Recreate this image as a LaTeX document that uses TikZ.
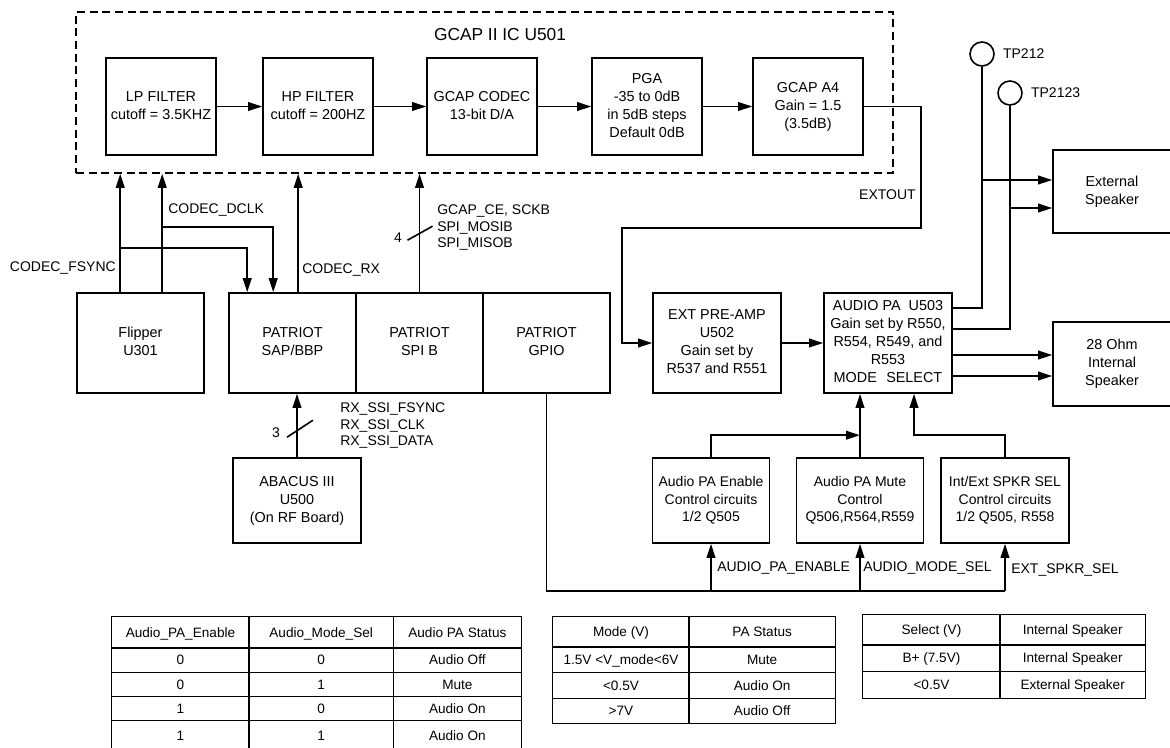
\documentclass[tikz,border=0pt]{standalone}
\usepackage{fontspec}
\setmainfont{Liberation Sans}
\usepackage{array}
\usetikzlibrary{arrows.meta,positioning,calc}
% strut for a table row of #1 px
\newcommand{\rowht}[1]{\rule[\dimexpr3.6pt-0.375pt*#1\relax]{0pt}{\dimexpr0.75pt*#1\relax}}
\tikzset{
 wire/.style={line width=1.2pt},
 blk/.style={draw, line width=1.2pt, inner sep=1pt, font=\fontsize{10.8}{13.5}\selectfont},
 ctl/.style={blk, minimum height=63.75pt, font=\fontsize{10.5}{13.1}\selectfont},
 sig/.style={inner sep=0pt, font=\fontsize{10.5}{12.4}\selectfont},
 tp/.style={draw, circle, line width=1.2pt, minimum size=18pt, inner sep=0pt},
 tbl/.style={inner sep=0pt, anchor=north west, font=\fontsize{10.2}{12}\selectfont},
}

\begin{document}
\begin{tikzpicture}[x=0.75pt, y=-0.75pt, >={Triangle[length=10.5pt,width=6.5pt]}]
\useasboundingbox (0,0) rectangle (1170,747);
% GCAP II
\node[draw, line width=1.2pt, dash pattern=on 6pt off 3.5pt, minimum width=612.75pt, minimum height=120.75pt] (gcap) at (484.5,92.5) {};
\node[font=\fontsize{13}{15}\selectfont] (gcaplbl) at (500,35) {GCAP II IC U501};
\node[blk, minimum width=82.5pt, minimum height=72.75pt] (lpf) at (161,106.5) {\begin{tabular}{@{}c@{}}LP FILTER\\ cutoff = 3.5KHZ\end{tabular}};
\node[blk, minimum width=82.5pt, minimum height=72.75pt] (hpf) at (318,106.5) {\begin{tabular}{@{}c@{}}HP FILTER\\ cutoff = 200HZ\end{tabular}};
\node[blk, minimum width=82.5pt, minimum height=72.75pt] (codec) at (482,106.5) {\begin{tabular}{@{}c@{}}GCAP CODEC\\ 13-bit D/A\\ \end{tabular}};
\node[blk, minimum width=82.5pt, minimum height=72.75pt] (pga) at (647,106.5) {\begin{tabular}{@{}c@{}}PGA\\ -35 to 0dB\\ in 5dB steps\\ Default 0dB\end{tabular}};
\node[blk, minimum width=82.5pt, minimum height=72.75pt] (a4) at (808,106.5) {\begin{tabular}{@{}c@{}}GCAP A4\\ Gain = 1.5\\ (3.5dB)\end{tabular}};
\path[->, wire] (lpf) edge (hpf) (hpf) edge (codec) (codec) edge (pga) (pga) edge (a4);

% baseband side
\node[blk, minimum width=95.25pt, minimum height=75pt] (flipper) at (140.5,343) {\begin{tabular}{@{}c@{}}Flipper\\ U301\end{tabular}};
\node[blk, minimum width=95.25pt, minimum height=75pt] (sap) at (292.5,343) {\begin{tabular}{@{}c@{}}PATRIOT\\ SAP/BBP\end{tabular}};
\node[blk, minimum width=95.25pt, minimum height=75pt] (spi) at (419.5,343) {\begin{tabular}{@{}c@{}}PATRIOT\\ SPI B\end{tabular}};
\node[blk, minimum width=95.25pt, minimum height=75pt] (gpio) at (546.5,343) {\begin{tabular}{@{}c@{}}PATRIOT\\ GPIO\end{tabular}};
\node[blk, minimum width=96pt, minimum height=63.75pt] (abacus) at (297,500.5) {\begin{tabular}{@{}c@{}}ABACUS III\\ U500\\ (On RF Board)\end{tabular}};

\coordinate (fs) at ($(flipper.north west)+(44,0)$);
\coordinate (dclk) at ($(flipper.north west)+(86,0)$);
\coordinate (sapfs) at ($(sap.north west)+(19,0)$);
\coordinate (sapdclk) at ($(sap.north west)+(45,0)$);
\coordinate (saprx) at ($(sap.north west)+(70,0)$);
\draw[->, wire] (fs) -- (fs |- gcap.south);
\draw[->, wire] (dclk) -- (dclk |- gcap.south);
\draw[->, wire] ($(fs)+(0,-44)$) -| (sapfs);
\draw[->, wire] ($(dclk)+(0,-65)$) -| (sapdclk);
\draw[->, wire] (saprx) -- (saprx |- gcap.south);
\draw[->, wire] (spi.north) -- (spi.north |- gcap.south);
\draw[wire] ($(spi.north)+(-12,-52)$) -- ++(25,-14);
\draw[->, wire] (abacus.north) -- (abacus.north |- sap.south);
\draw[wire] ($(abacus.north)+(-10,-20)$) -- ++(26,-17);

\node[sig, anchor=west] (dclklbl) at (168,210) {CODEC\_DCLK};
\node[sig, anchor=east] (fsynclbl) at (116,268) {CODEC\_FSYNC};
\node[sig, anchor=west] (rxlbl) at (302,270) {CODEC\_RX};
\node[sig] (spinum) at (398,238) {4};
\node[sig, anchor=west] (spilbl) at (437,228) {\begin{tabular}{@{}l@{}}GCAP\_CE, SCKB\\ SPI\_MOSIB\\ SPI\_MISOB\end{tabular}};
\node[sig] (rxnum) at (276,433) {3};
\node[sig, anchor=west] (rxssilbl) at (340,426) {\begin{tabular}{@{}l@{}}RX\_SSI\_FSYNC\\ RX\_SSI\_CLK\\ RX\_SSI\_DATA\end{tabular}};

% audio path
\node[blk, minimum width=96pt, minimum height=75pt] (preamp) at (717,343) {\begin{tabular}{@{}c@{}}EXT PRE-AMP\\ U502\\ Gain set by\\ R537 and R551\end{tabular}};
\node[blk, minimum width=96pt, minimum height=75pt] (pa) at (888,343) {\begin{tabular}{@{}c@{}}AUDIO PA\ \ U503\\ Gain set by R550,\\ R554, R549, and\\ R553\\ MODE\hspace{7pt}SELECT\end{tabular}};
\node[blk, minimum width=88.5pt, minimum height=62.25pt] (extspk) at (1112,191.5) {\begin{tabular}{@{}c@{}}External\\ Speaker\end{tabular}};
\node[blk, minimum width=88.5pt, minimum height=63pt] (intspk) at (1112,364) {\begin{tabular}{@{}c@{}}28 Ohm\\ Internal\\ Speaker\end{tabular}};
\node[tp] (tpa) at (982,54) {};
\node[sig, right=6pt of tpa] (tpalbl) {TP212};
\node[tp] (tpb) at (1010,93) {};
\node[sig, right=6pt of tpb] (tpblbl) {TP2123};

\coordinate (exta) at (921,228);
\coordinate (extb) at (622,228);
\draw[->, wire] (a4.east) -| (exta) -- (extb) |- (preamp.west);
\node[sig, anchor=east] (extlbl) at (916,195) {EXTOUT};
\draw[->, wire] (preamp) -- (pa);

\coordinate (pa1) at ($(pa.east)+(0,-35)$);
\coordinate (pa2) at ($(pa.east)+(0,-14)$);
\coordinate (pa3) at ($(pa.east)+(0,12)$);
\coordinate (pa4) at ($(pa.east)+(0,33)$);
\coordinate (xs1) at ($(extspk.west)+(0,-11.5)$);
\coordinate (xs2) at ($(extspk.west)+(0,16.5)$);
\draw[wire] (tpa.south) |- (pa1);
\draw[wire] (tpb.south) |- (pa2);
\draw[->, wire] (tpa.south |- xs1) -- (xs1);
\draw[->, wire] (tpb.south |- xs2) -- (xs2);
\draw[->, wire] (pa3) -- (pa3 -| intspk.west);
\draw[->, wire] (pa4) -- (pa4 -| intspk.west);

% PA control
\node[ctl, minimum width=87.75pt] (enable) at (711,500.5) {\begin{tabular}{@{}c@{}}Audio PA Enable\\ Control circuits\\ 1/2 Q505\end{tabular}};
\node[ctl, minimum width=95.25pt] (mute) at (860,500.5) {\begin{tabular}{@{}c@{}}Audio PA Mute\\ Control\\ Q506,R564,R559\end{tabular}};
\node[ctl, minimum width=96pt] (sel) at (1005,500.5) {\begin{tabular}{@{}c@{}}Int/Ext SPKR SEL\\ Control circuits\\ 1/2 Q505, R558\end{tabular}};
\coordinate (busl) at ($(gpio.south)+(0,197)$);
\draw[wire] (gpio.south) -- (busl) -- (busl -| sel.south);
\draw[->, wire] (busl -| enable.south) -- (enable.south);
\draw[->, wire] (busl -| mute.south) -- (mute.south);
\draw[->, wire] (busl -| sel.south) -- (sel.south);
\draw[->, wire] (enable.north) |- ($(mute.north)+(0,-22)$);
\draw[->, wire] (mute.north) -- (mute.north |- pa.south);
\draw[->, wire] (sel.north) -- ++(0,-22) -| ($(pa.south)+(26,0)$);
\node[sig, anchor=west] (enalbl) at (717,568) {AUDIO\_PA\_ENABLE};
\node[sig, anchor=west] (modelbl) at (863,568) {AUDIO\_MODE\_SEL};
\node[sig, anchor=west] (spkrlbl) at (1011,570) {EXT\_SPKR\_SEL};

% truth tables
\node[tbl] (tabena) at (111,616) {\setlength{\tabcolsep}{0pt}\setlength{\arrayrulewidth}{0.9pt}%
\begin{tabular}{|w{c}{102pt}|w{c}{107.25pt}|w{c}{95.25pt}|}
\hline
\rowht{30}Audio\_PA\_Enable & Audio\_Mode\_Sel & Audio PA Status\\ \hline
\rowht{23}0 & 0 & Audio Off\\ \hline
\rowht{23}0 & 1 & Mute\\ \hline
\rowht{23}1 & 0 & Audio On\\ \hline
\rowht{28}1 & 1 & Audio On\\ \hline
\end{tabular}};
\node[tbl] (tabmode) at (552,616) {\setlength{\tabcolsep}{0pt}\setlength{\arrayrulewidth}{0.9pt}%
\begin{tabular}{|w{c}{101.25pt}|w{c}{108.75pt}|}
\hline
\rowht{29}Mode (V) & PA Status\\ \hline
\rowht{24}1.5V <V\_mode<6V & Mute\\ \hline
\rowht{25}<0.5V & Audio On\\ \hline
\rowht{24}>7V & Audio Off\\ \hline
\end{tabular}};
\node[tbl] (tabsel) at (862,614) {\setlength{\tabcolsep}{0pt}\setlength{\arrayrulewidth}{0.9pt}%
\begin{tabular}{|w{c}{102pt}|w{c}{108pt}|}
\hline
\rowht{29}Select (V) & Internal Speaker\\ \hline
\rowht{25}B+ (7.5V) & Internal Speaker\\ \hline
\rowht{26}<0.5V & External Speaker\\ \hline
\end{tabular}};
\end{tikzpicture}
\end{document}
